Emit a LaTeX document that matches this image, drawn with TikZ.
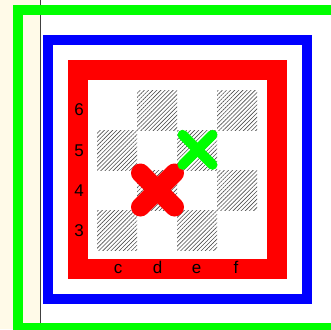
\documentclass[tikz,border=0pt]{standalone}
\usepackage{fontspec}
\setmainfont{Liberation Sans}
\usetikzlibrary{patterns.meta}
\definecolor{cream}{HTML}{FFFAE8}
\definecolor{pgreen}{HTML}{00FF00}
\definecolor{pblue}{HTML}{0000FF}
\definecolor{pred}{HTML}{FF0000}
\begin{document}
\begin{tikzpicture}[x=1pt,y=-1pt,
  lbl/.style={font=\fontsize{17}{17}\selectfont, inner sep=0pt, anchor=base},
  darksq/.style={pattern={Lines[angle=45,distance=2.9pt,line width=0.6pt]}, pattern color=black!70},
  crossline/.style={line cap=round}]
\useasboundingbox (0,0) rectangle (331,329);
\clip (0,0) rectangle (331,329);
\fill[cream] (0,0) rectangle (40,329);
\draw[black!75, line width=1] (40,0) -- (40,329);
% frames
\draw[pgreen, line width=10] (18.3,10) rectangle (400,328.3);
\draw[pblue, line width=10] (48.3,40.2) rectangle (307.3,299.3);
\draw[pred, line width=20] (78.3,70.3) rectangle (277.3,269.3);
% dark squares
\foreach \x/\y in {137/90,217/90,97/130,177/130,137/170,217/170,97/210,177/210}
  \fill[darksq] (\x,\y) rectangle ++(40,40);
% rank labels
\node[lbl] (r6) at (79,115.7) {6};
\node[lbl] (r5) at (79,156) {5};
\node[lbl] (r4) at (79,196.3) {4};
\node[lbl] (r3) at (79,236.7) {3};
% file labels
\node[lbl] (fc) at (118,273.3) {c};
\node[lbl] (fd) at (157.7,273.3) {d};
\node[lbl] (fe) at (196.7,273.3) {e};
\node[lbl] (ff) at (236,273.3) {f};
% red cross
\draw[pred, crossline, line width=19] (140.5,173) -- (174.5,207);
\draw[pred, crossline, line width=19] (140.5,207) -- (174.5,173);
% green cross
\draw[pgreen, crossline, line width=10] (182.5,134.8) -- (212.5,164.8);
\draw[pgreen, crossline, line width=10] (182.5,164.8) -- (212.5,134.8);
\end{tikzpicture}
\end{document}
